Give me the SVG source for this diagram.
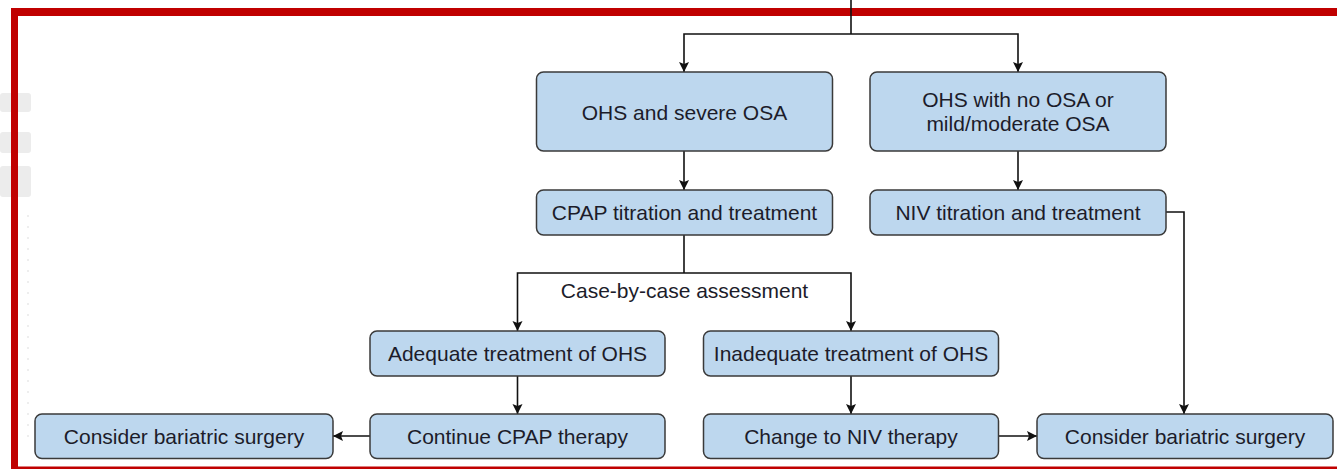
<svg xmlns="http://www.w3.org/2000/svg" width="1337" height="469" viewBox="0 0 1337 469">
  <defs>
    <marker id="arrow" viewBox="0 0 10 12" refX="10" refY="6" markerWidth="10" markerHeight="12" markerUnits="userSpaceOnUse" orient="auto">
      <path d="M0,1 L10,6 L0,11 L2,6 Z" fill="#111"/>
    </marker>
    <style>
      .box { fill: #BDD7EE; stroke: #3a3a3a; stroke-width: 1.5; }
      .lbl { font-family: "Liberation Sans", Arial, sans-serif; font-size: 21px; fill: #1c1c2a; text-anchor: middle; }
      .wire { fill: none; stroke: #111; stroke-width: 1.6; }
      .arr { marker-end: url(#arrow); }
      .ghost { fill: #ececec; }
    </style>
  </defs>

  <rect width="1337" height="469" fill="#ffffff"/>

  <!-- faint background fragments at the left margin -->
  <g id="margin-fragments">
    <rect class="ghost" x="0" y="93" width="31" height="19" rx="3"/>
    <rect class="ghost" x="0" y="132" width="31" height="21" rx="3"/>
    <rect class="ghost" x="0" y="166" width="31" height="31" rx="3"/>
    <line x1="28" y1="215" x2="28" y2="445" stroke="#eeeeee" stroke-width="2" stroke-dasharray="2 9"/>
  </g>

  <!-- red frame -->
  <g id="frame" fill="#C00000">
    <rect x="11" y="8" width="1326" height="8"/>
    <rect x="11" y="8" width="7" height="461"/>
    <rect x="11" y="466.5" width="1326" height="2.5"/>
  </g>

  <!-- connectors -->
  <g id="connectors">
    <path class="wire" d="M851,0 V34"/>
    <path class="wire arr" d="M851,34 H684 V72"/>
    <path class="wire arr" d="M851,34 H1018 V72"/>
    <path class="wire arr" d="M684,151 V190"/>
    <path class="wire arr" d="M1018,151 V190"/>
    <path class="wire" d="M684,235 V273"/>
    <path class="wire arr" d="M684,273 H517.5 V331"/>
    <path class="wire arr" d="M684,273 H851 V331"/>
    <path class="wire arr" d="M517.5,376 V414"/>
    <path class="wire arr" d="M851,376 V414"/>
    <path class="wire arr" d="M370,436 H333"/>
    <path class="wire arr" d="M999,436 H1037"/>
    <path class="wire arr" d="M1166,212 H1184 V414"/>
    <text class="lbl" x="684.5" y="298">Case-by-case assessment</text>
  </g>

  <g id="ohs-severe-osa">
    <rect class="box" x="536.5" y="72" width="296" height="79" rx="7"/>
    <text class="lbl" x="684.5" y="119.5">OHS and severe OSA</text>
  </g>

  <g id="ohs-no-mild-osa">
    <rect class="box" x="870" y="72" width="296" height="79" rx="7"/>
    <text class="lbl" x="1018" y="106.5">OHS with no OSA or</text>
    <text class="lbl" x="1018" y="131">mild/moderate OSA</text>
  </g>

  <g id="cpap-titration">
    <rect class="box" x="536.5" y="190" width="296" height="45" rx="7"/>
    <text class="lbl" x="684.5" y="220">CPAP titration and treatment</text>
  </g>

  <g id="niv-titration">
    <rect class="box" x="870" y="190" width="296" height="45" rx="7"/>
    <text class="lbl" x="1018" y="220">NIV titration and treatment</text>
  </g>

  <g id="adequate-treatment">
    <rect class="box" x="370" y="331" width="295" height="45" rx="7"/>
    <text class="lbl" x="517.5" y="360.5">Adequate treatment of OHS</text>
  </g>

  <g id="inadequate-treatment">
    <rect class="box" x="703.5" y="331" width="295" height="45" rx="7"/>
    <text class="lbl" x="851" y="360.5">Inadequate treatment of OHS</text>
  </g>

  <g id="bariatric-left">
    <rect class="box" x="35" y="414" width="298" height="44.5" rx="7"/>
    <text class="lbl" x="184" y="443.5">Consider bariatric surgery</text>
  </g>

  <g id="continue-cpap">
    <rect class="box" x="370" y="414" width="295" height="44.5" rx="7"/>
    <text class="lbl" x="517.5" y="443.5">Continue CPAP therapy</text>
  </g>

  <g id="change-to-niv">
    <rect class="box" x="703.5" y="414" width="295" height="44.5" rx="7"/>
    <text class="lbl" x="851" y="443.5">Change to NIV therapy</text>
  </g>

  <g id="bariatric-right">
    <rect class="box" x="1037" y="414" width="296" height="44.5" rx="7"/>
    <text class="lbl" x="1185" y="443.5">Consider bariatric surgery</text>
  </g>
</svg>
